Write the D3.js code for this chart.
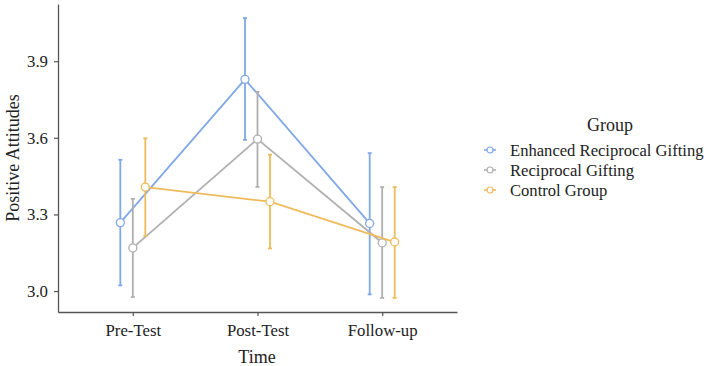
<!DOCTYPE html>
<html>
<head>
<meta charset="utf-8">
<script src="https://cdn.jsdelivr.net/npm/d3@7"></script>
<style>
  body { margin: 0; background: #fff; }
  svg { display: block; font-family: "Liberation Serif", "DejaVu Serif", serif; }
</style>
</head>
<body>
<svg id="chart" width="709" height="366"></svg>
<script>
// data
const times = ['Pre-Test', 'Post-Test', 'Follow-up'];
const groups = ['Enhanced Reciprocal Gifting', 'Reciprocal Gifting', 'Control Group'];
const colors = ['#80a8e6', '#afafaf', '#eebb5c'];
const yTicks = [3.0, 3.3, 3.6, 3.9];

const meanERG = [3.268, 3.829, 3.265];
const lowERG  = [3.022, 3.592, 2.987];
const highERG = [3.514, 4.069, 3.540];

const meanRG  = [3.169, 3.595, 3.189];
const lowRG   = [2.977, 3.408, 2.973];
const highRG  = [3.361, 3.780, 3.407];

const meanCG  = [3.407, 3.350, 3.192];
const lowCG   = [3.216, 3.167, 2.973];
const highCG  = [3.598, 3.534, 3.407];

const series = [
  { name: groups[0], color: colors[0], mean: meanERG, low: lowERG, high: highERG, off: -12.5 },
  { name: groups[1], color: colors[1], mean: meanRG, low: lowRG, high: highRG, off: 0 },
  { name: groups[2], color: colors[2], mean: meanCG, low: lowCG, high: highCG, off: 12.5 }
];

const svg = d3.select('#chart');
const pLeft = 58, pRight = 457, pTop = 4, pBottom = 312;
const serif = '"Liberation Serif", "DejaVu Serif", serif';

const x = d3.scalePoint().domain(times).range([pLeft, pRight]).padding(0.6);
const y = d3.scaleLinear().domain([2.918, 4.124]).range([pBottom, pTop]);

// axes
const yAxis = svg.append('g')
  .attr('transform', `translate(${pLeft},0)`)
  .call(d3.axisLeft(y).tickValues(yTicks).tickFormat(d3.format('.1f')).tickSize(4).tickSizeOuter(0));
const xAxis = svg.append('g')
  .attr('transform', `translate(0,${pBottom})`)
  .call(d3.axisBottom(x).tickSize(4).tickSizeOuter(0));

[yAxis, xAxis].forEach(ax => {
  ax.attr('font-family', serif).attr('font-size', 16.8);
  ax.select('.domain').attr('stroke', '#555').attr('stroke-width', 1.3);
  ax.selectAll('.tick line').attr('stroke', '#555').attr('stroke-width', 1.2);
  ax.selectAll('.tick text').attr('fill', '#222');
});
yAxis.selectAll('.tick text').attr('x', -10);
xAxis.selectAll('.tick text').attr('y', 12);

// axis titles
svg.append('text')
  .attr('x', 257).attr('y', 363)
  .attr('text-anchor', 'middle')
  .style('font-size', '18px').attr('fill', '#222')
  .text('Time');
svg.append('text')
  .attr('transform', 'translate(19,158) rotate(-90)')
  .attr('text-anchor', 'middle')
  .style('font-size', '18px').attr('fill', '#222')
  .text('Positive Attitudes');

// lines, error bars, points
const line = d3.line();
series.forEach(s => {
  const g = svg.append('g');
  const pts = times.map((t, i) => [x(t) + s.off, y(s.mean[i])]);
  g.append('path')
    .attr('d', line(pts))
    .attr('fill', 'none')
    .attr('stroke', s.color)
    .attr('stroke-width', 1.8);
  times.forEach((t, i) => {
    const cx = x(t) + s.off;
    g.append('line')
      .attr('x1', cx).attr('x2', cx)
      .attr('y1', y(s.low[i])).attr('y2', y(s.high[i]))
      .attr('stroke', s.color).attr('stroke-width', 1.8);
    [s.low[i], s.high[i]].forEach(v => {
      g.append('line')
        .attr('x1', cx - 2).attr('x2', cx + 2)
        .attr('y1', y(v)).attr('y2', y(v))
        .attr('stroke', s.color).attr('stroke-width', 1.8);
    });
  });
  g.selectAll('circle').data(pts).enter().append('circle')
    .attr('cx', d => d[0]).attr('cy', d => d[1]).attr('r', 4)
    .attr('fill', '#fff')
    .attr('stroke', s.color).attr('stroke-width', 1.3);
});

// legend
const lg = svg.append('g').attr('transform', 'translate(484,0)');
lg.append('text')
  .attr('x', 126).attr('y', 131)
  .attr('text-anchor', 'middle')
  .style('font-size', '18px').attr('fill', '#222')
  .text('Group');
series.forEach((s, i) => {
  const cy = 150 + i * 20;
  lg.append('line')
    .attr('x1', 0).attr('x2', 12).attr('y1', cy).attr('y2', cy)
    .attr('stroke', s.color).attr('stroke-width', 1.6);
  lg.append('circle')
    .attr('cx', 6).attr('cy', cy).attr('r', 3)
    .attr('fill', '#fff').attr('stroke', s.color).attr('stroke-width', 1.2);
  lg.append('text')
    .attr('x', 26).attr('y', cy + 5.5)
    .style('font-size', '16.6px').attr('fill', '#222')
    .text(s.name);
});
</script>
</body>
</html>
